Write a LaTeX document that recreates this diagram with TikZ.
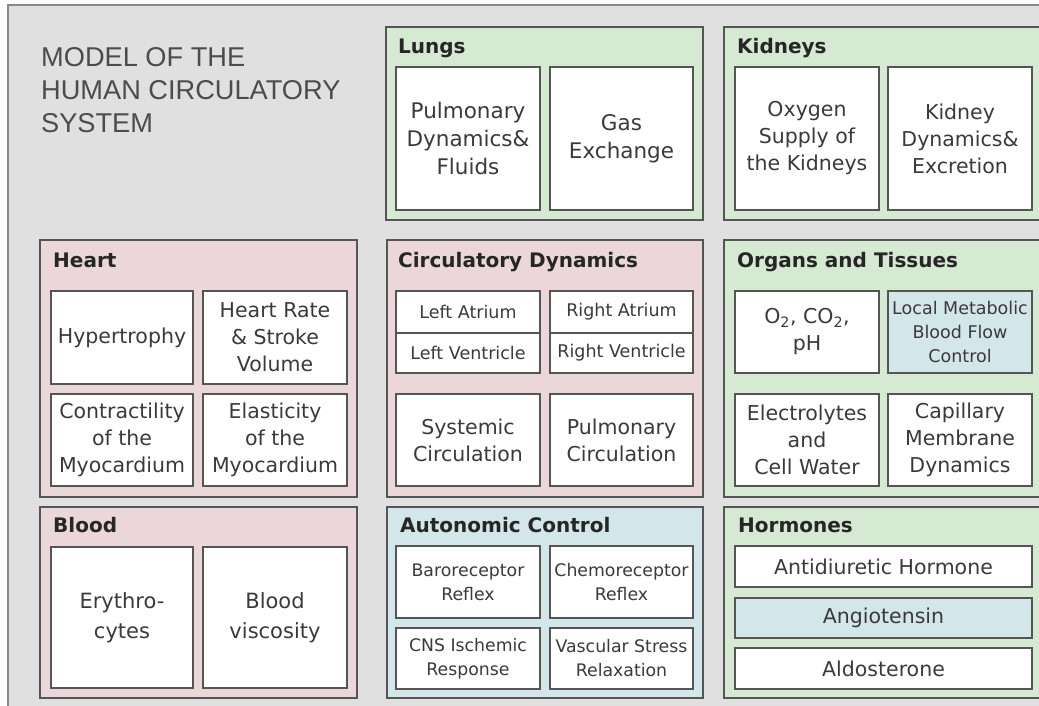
\documentclass[tikz,border=0pt]{standalone}
\usepackage{fontspec}
\setmainfont{DejaVu Sans}
\newfontfamily\titlefont{Liberation Sans}
\definecolor{bggray}{HTML}{E0E0E0}
\definecolor{framec}{HTML}{8A8A8A}
\definecolor{grn}{HTML}{D5E9D3}
\definecolor{pnk}{HTML}{EBD7D9}
\definecolor{blu}{HTML}{D3E6E9}
\definecolor{edgec}{HTML}{555555}
\definecolor{txt}{HTML}{3A3A3A}
\newcommand\bx[7]{\node[#1, minimum width={#4-#2}, minimum height={#5-#3}] (#6) at ({(#2+#4)/2},{(#3+#5)/2}) {#7};}
\tikzset{
  group/.style={draw=edgec, line width=1.4pt, inner sep=0pt},
  cell/.style={draw=edgec, line width=1.4pt, fill=white, align=center, inner sep=0pt, text=txt, font=\fontsize{20.5}{27}\selectfont},
  bigtext/.style={font=\fontsize{21.5}{28}\selectfont},
  bloodtext/.style={font=\fontsize{21}{30}\selectfont},
  smalltext/.style={font=\fontsize{17.5}{21}\selectfont},
  locmet/.style={font=\fontsize{17.5}{24}\selectfont},
  tinytext/.style={font=\fontsize{17.3}{24}\selectfont},
  gtitle/.style={anchor=base west, inner sep=0pt, font=\bfseries\fontsize{20}{24}\selectfont, text=black!85},
}
\begin{document}
\begin{tikzpicture}[x=1pt,y=-1pt]
\useasboundingbox (0,0) rectangle (1039,705);
\clip (0,0) rectangle (1039,705);
\fill[white] (0,0) rectangle (1039,705);
% outer frame
\bx{draw=framec, fill=bggray, line width=1.5pt, inner sep=0pt}{8}{5}{1070}{740}{frame}{}
\node[anchor=north west, align=left, inner sep=0pt, text=black!70, font=\titlefont\fontsize{27.2}{33}\selectfont] (title) at (41,47) {MODEL OF THE\\HUMAN CIRCULATORY\\SYSTEM};
% groups
\bx{group, fill=grn}{386}{27}{703}{220}{lungs}{}
\bx{group, fill=grn}{724}{27}{1043}{220}{kidneys}{}
\bx{group, fill=pnk}{40}{240}{357}{497}{heart}{}
\bx{group, fill=pnk}{387}{240}{703}{497}{circ}{}
\bx{group, fill=grn}{724}{240}{1043}{497}{organs}{}
\bx{group, fill=pnk}{40}{507}{357}{698}{blood}{}
\bx{group, fill=blu}{387}{507}{703}{698}{auto}{}
\bx{group, fill=grn}{724}{507}{1043}{698}{hormones}{}
% group titles
\node[gtitle] (lungsT) at (398,53) {Lungs};
\node[gtitle] (kidneysT) at (737,53) {Kidneys};
\node[gtitle] (heartT) at (53,267) {Heart};
\node[gtitle] (circT) at (398,267) {Circulatory Dynamics};
\node[gtitle] (organsT) at (737,267) {Organs and Tissues};
\node[gtitle] (bloodT) at (53,532) {Blood};
\node[gtitle] (autoT) at (400,532) {Autonomic Control};
\node[gtitle] (hormonesT) at (738,532) {Hormones};
% Lungs
\bx{cell, bigtext}{396}{67}{540}{210}{pd}{Pulmonary\\Dynamics\&\\Fluids}
\bx{cell, bigtext}{550}{67}{693}{210}{ge}{Gas\\Exchange}
% Kidneys
\bx{cell}{735}{67}{879}{210}{os}{Oxygen\\Supply of\\the Kidneys}
\bx{cell}{888}{67}{1032}{210}{kd}{Kidney\\Dynamics\&\\Excretion}
% Heart
\bx{cell}{51}{291}{193}{384}{hy}{Hypertrophy}
\bx{cell}{203}{291}{347}{384}{hr}{Heart Rate\\\& Stroke\\Volume}
\bx{cell}{51}{394}{193}{486}{co}{Contractility\\of the\\Myocardium}
\bx{cell}{203}{394}{347}{486}{el}{Elasticity\\of the\\Myocardium}
% Circulatory Dynamics
\bx{cell, smalltext}{396}{291}{540}{333}{la}{Left Atrium}
\bx{cell, smalltext}{396}{333}{540}{373}{lv}{Left Ventricle}
\bx{cell, smalltext}{550}{291}{693}{333}{ra}{Right Atrium}
\bx{cell, smalltext}{550}{333}{693}{373}{rv}{Right Ventricle}
\bx{cell}{396}{394}{540}{486}{sc}{Systemic\\Circulation}
\bx{cell}{550}{394}{693}{486}{pc}{Pulmonary\\Circulation}
% Organs and Tissues
\bx{cell}{735}{291}{879}{373}{o2}{O\textsubscript{2}, CO\textsubscript{2},\\pH}
\bx{cell, fill=blu, locmet}{888}{291}{1032}{373}{lm}{Local Metabolic\\Blood Flow\\Control}
\bx{cell}{735}{394}{879}{486}{ec}{Electrolytes\\and\\Cell Water}
\bx{cell}{888}{394}{1032}{486}{cm}{Capillary\\Membrane\\Dynamics}
% Blood
\bx{cell, bloodtext}{51}{547}{193}{688}{er}{Erythro-\\cytes}
\bx{cell, bloodtext}{203}{547}{347}{688}{bv}{Blood\\viscosity}
% Autonomic Control
\bx{cell, tinytext}{396}{546}{540}{618}{br}{Baroreceptor\\Reflex}
\bx{cell, tinytext}{550}{546}{693}{618}{cr}{Chemoreceptor\\Reflex}
\bx{cell, tinytext}{396}{628}{540}{689}{cn}{CNS Ischemic\\Response}
\bx{cell, tinytext}{550}{628}{693}{689}{vs}{Vascular Stress\\Relaxation}
% Hormones
\bx{cell}{735}{546}{1032}{587}{ad}{Antidiuretic Hormone}
\bx{cell, fill=blu}{735}{598}{1032}{638}{an}{Angiotensin}
\bx{cell}{735}{648}{1032}{689}{al}{Aldosterone}
\end{tikzpicture}
\end{document}
